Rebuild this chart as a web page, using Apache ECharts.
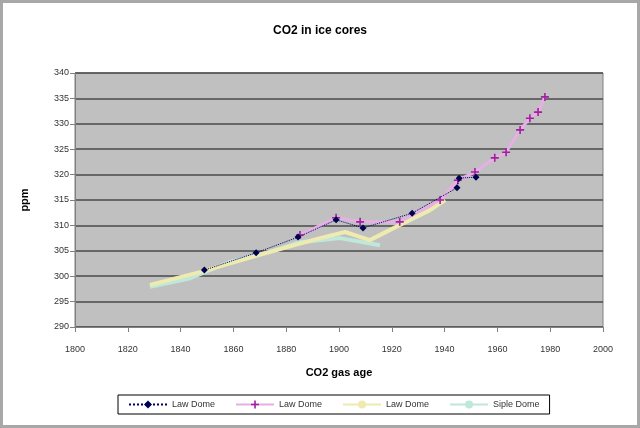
<!DOCTYPE html>
<html>
<head>
<meta charset="utf-8">
<script src="https://cdn.jsdelivr.net/npm/echarts@6/dist/echarts.min.js"></script>
<style>
html,body{margin:0;padding:0;background:#fff;}
#frame{position:absolute;left:0;top:0;width:634px;height:422px;border:3px solid #a8a8a8;}
#chart{position:absolute;left:0;top:0;width:640px;height:428px;}
</style>
</head>
<body>
<div id="frame"></div>
<div id="chart"></div>
<script>
// Axis ticks
const xTicks = [1800, 1820, 1840, 1860, 1880, 1900, 1920, 1940, 1960, 1980, 2000];
const yTicks = [290, 295, 300, 305, 310, 315, 320, 325, 330, 335, 340];

// Series 1: Law Dome (navy, diamonds)
const lawDome1Years = [1849, 1868.6, 1884.5, 1898.9, 1909.1, 1927.7, 1944.7, 1945.5, 1951.9];
const lawDome1Ppm   = [301.2, 304.6, 307.7, 311.1, 309.5, 312.4, 317.4, 319.3, 319.5];

// Series 2: Law Dome (magenta, crosses)
const lawDome2Years = [1885.2, 1898.9, 1908, 1923, 1938.3, 1945, 1951.5, 1959, 1963.3, 1968.6, 1972.3, 1975.4, 1978];
const lawDome2Ppm   = [308.1, 311.5, 310.7, 310.7, 315.0, 318.9, 320.5, 323.3, 324.4, 328.8, 331.1, 332.3, 335.3];

// Series 3: Law Dome (pale yellow line)
const lawDome3Years = [1828.4, 1847.3, 1873.9, 1892.8, 1902.3, 1911.7, 1923.1, 1934.5, 1940.2];
const lawDome3Ppm   = [298.3, 300.8, 304.8, 307.5, 308.7, 307.1, 310.1, 313.0, 315.0];

// Series 4: Siple Dome (pale cyan line)
const sipleYears = [1828.4, 1843.6, 1858.7, 1873.9, 1885.2, 1900.4, 1915.5];
const siplePpm   = [297.9, 299.6, 302.8, 304.8, 306.7, 307.5, 306.1];

function pairs(xs, ys) { return xs.map((x, i) => [x, ys[i]]); }

const plus = 'path://M4,0H6V4H10V6H6V10H4V6H0V4H4Z';

const chart = echarts.init(document.getElementById('chart'));
chart.setOption({
  animation: false,
  textStyle: { fontFamily: 'Liberation Sans, Arial, sans-serif' },
  title: {
    text: 'CO2 in ice cores', left: 'center', top: 20,
    textStyle: { fontSize: 12, fontWeight: 'bold', color: '#000' }
  },
  grid: {
    left: 75, right: 37, top: 73, bottom: 101,
    show: true, backgroundColor: '#c0c0c0', borderColor: '#808080', borderWidth: 1
  },
  xAxis: {
    type: 'value', min: xTicks[0], max: xTicks[xTicks.length - 1], interval: 20,
    name: 'CO2 gas age', nameLocation: 'middle', nameGap: 40,
    nameTextStyle: { fontSize: 11, fontWeight: 'bold', color: '#000' },
    axisLine: { show: true, lineStyle: { color: '#808080' } },
    axisTick: { show: true, lineStyle: { color: '#808080' } },
    axisLabel: { fontSize: 9, color: '#333', margin: 18, formatter: v => String(v) },
    splitLine: { show: false }
  },
  yAxis: {
    type: 'value', min: yTicks[0], max: yTicks[yTicks.length - 1], interval: 5,
    name: 'ppm', nameLocation: 'middle', nameGap: 45,
    nameTextStyle: { fontSize: 11, fontWeight: 'bold', color: '#000' },
    axisLine: { show: true, lineStyle: { color: '#808080' } },
    axisTick: { show: true, lineStyle: { color: '#808080' } },
    axisLabel: { fontSize: 9, color: '#333', margin: 6 },
    splitLine: { show: true, lineStyle: { color: '#4a4a4a', width: 1.5 } }
  },
  legend: {
    left: 118, top: 395, orient: 'horizontal',
    borderColor: '#000', borderWidth: 1, padding: [5, 10],
    itemGap: 20, itemWidth: 38, itemHeight: 10,
    textStyle: { fontSize: 9, color: '#333' },
    data: [
      { name: 'Law Dome' },
      { name: 'Law Dome ' },
      { name: 'Law Dome  ' },
      { name: 'Siple Dome' }
    ],
    formatter: n => n.trim()
  },
  series: [
    {
      name: 'Law Dome', type: 'line', data: pairs(lawDome1Years, lawDome1Ppm),
      symbol: 'diamond', symbolSize: 7, showAllSymbol: true,
      lineStyle: { color: '#000060', width: 1, type: 'dotted' },
      itemStyle: { color: '#000050' }, z: 5
    },
    {
      name: 'Law Dome ', type: 'line', data: pairs(lawDome2Years, lawDome2Ppm),
      symbol: plus, symbolSize: 8, showAllSymbol: true,
      lineStyle: { color: '#e6b0e6', width: 3 },
      itemStyle: { color: '#a020a0' }, z: 4
    },
    {
      name: 'Law Dome  ', type: 'line', data: pairs(lawDome3Years, lawDome3Ppm),
      symbol: 'none',
      lineStyle: { color: '#eeeab0', width: 4 },
      itemStyle: { color: '#eeeab0' }, z: 3
    },
    {
      name: 'Siple Dome', type: 'line', data: pairs(sipleYears, siplePpm),
      symbol: 'none',
      lineStyle: { color: '#bfe8d8', width: 4 },
      itemStyle: { color: '#bfe8d8' }, z: 2
    }
  ]
});
</script>
</body>
</html>
